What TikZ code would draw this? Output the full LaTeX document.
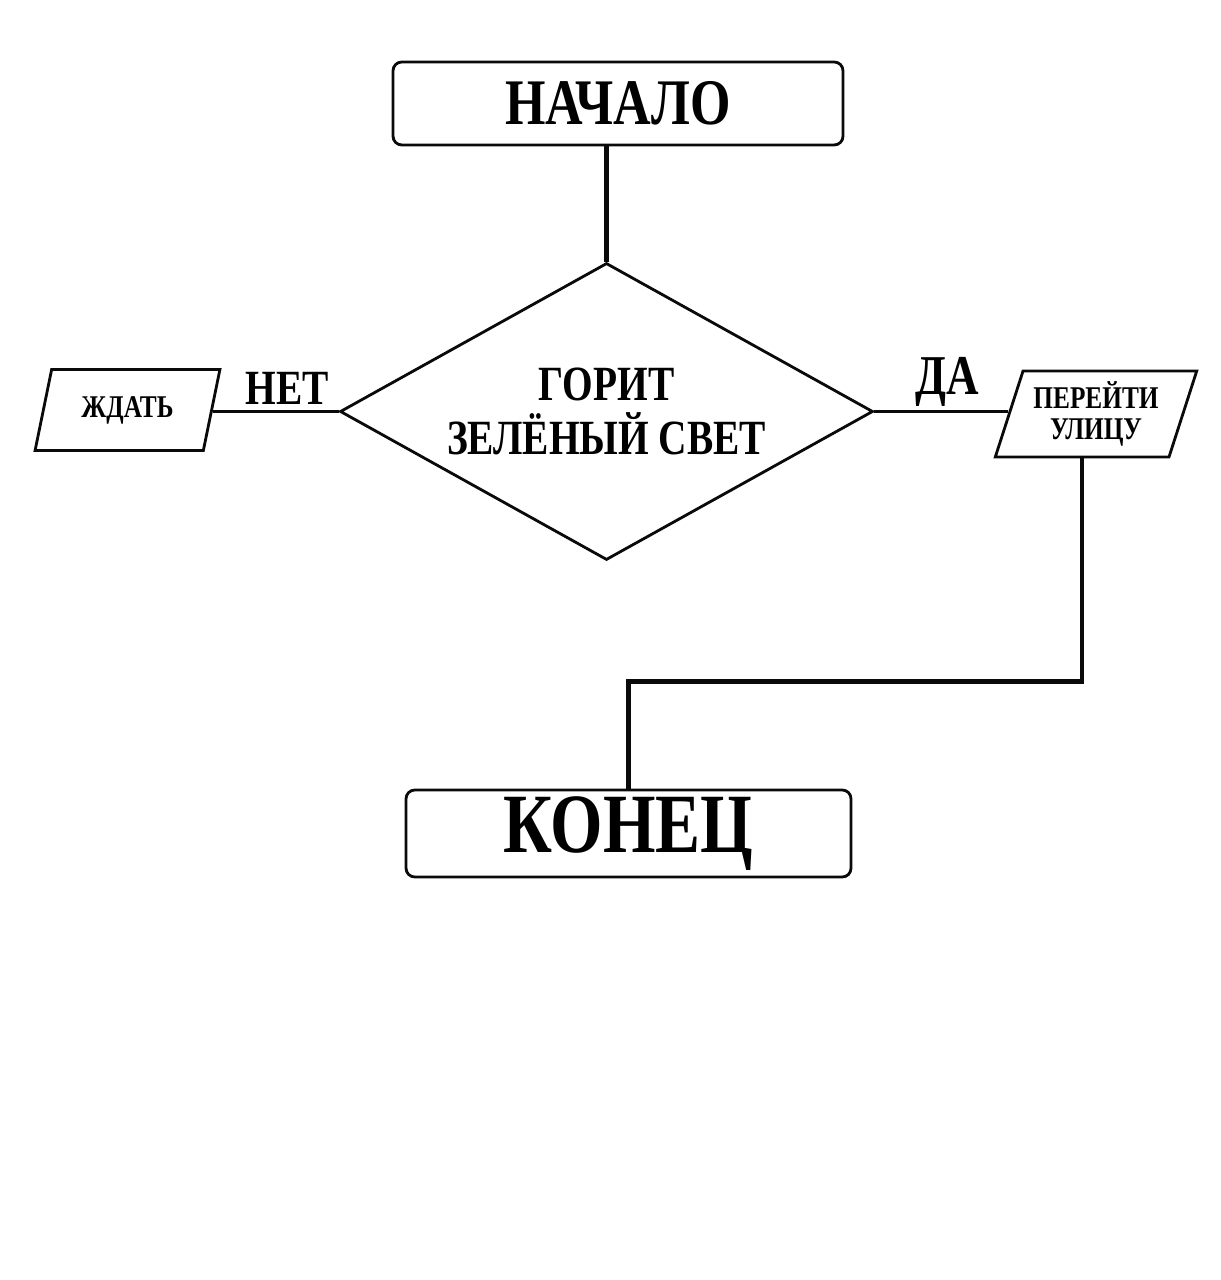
\documentclass[tikz,border=0pt]{standalone}
\usepackage{fontspec}
\usepackage{tikz}
\usetikzlibrary{shapes.geometric, arrows.meta, positioning, calc}
\newfontfamily\flowfont[FakeStretch=0.8]{Liberation Serif}
\definecolor{mydark}{RGB}{10,10,10}
\tikzset{
  termbox/.style={rectangle, draw=mydark, fill=white,
    minimum width=4.45cm, minimum height=0.85cm, inner sep=0pt,
    rounded corners=2.5pt, line width=0.8pt},
  decision/.style={diamond, draw=mydark, fill=white, aspect=1.8,
    minimum width=5.33cm, minimum height=2.97cm, inner sep=0pt,
    align=center, line width=0.8pt},
  iobox/.style={trapezium, trapezium left angle=70, trapezium right angle=110,
    trapezium stretches=true, draw=mydark, fill=white, align=center,
    inner sep=0pt, line width=0.8pt},
  lbl/.style={inner sep=0pt, font=\flowfont\bfseries\fontsize{14}{14}\selectfont},
  flow/.style={line width=1.4pt, color=mydark},
  line/.style={line width=1pt, color=mydark}
}
\begin{document}
\begin{tikzpicture}
  \useasboundingbox (0,0) rectangle (12.2,-12.8);
  \node[termbox, minimum width=4.5cm, minimum height=0.83cm,
    font=\flowfont\bfseries\fontsize{18.5}{18.5}\selectfont] (start) at (6.18,-1.035) {НАЧАЛО};
  \node[decision, font=\flowfont\bfseries\fontsize{14}{15.5}\selectfont] (cond) at (6.065,-4.115)
    {ГОРИТ\\ЗЕЛЁНЫЙ СВЕТ};
  \node[iobox, minimum width=1.85cm, minimum height=0.81cm,
    font=\flowfont\bfseries\fontsize{9}{9}\selectfont] (wait) at (1.275,-4.10) {ЖДАТЬ};
  \node[iobox, minimum width=2.02cm, minimum height=0.86cm,
    font=\flowfont\bfseries\fontsize{9}{9}\selectfont] (go) at (10.96,-4.14) {ПЕРЕЙТИ\\УЛИЦУ};
  \node[termbox, minimum height=0.87cm,
    font=\flowfont\bfseries\fontsize{24}{24}\selectfont] (end) at (6.285,-8.335) {КОНЕЦ};

  \node[lbl] (no) at (2.87,-3.88) {НЕТ};
  \node[lbl, font=\flowfont\bfseries\fontsize{16}{16}\selectfont] (yes) at (9.47,-3.82) {ДА};

  \draw[flow] (start.south -| cond.north) -- (cond.north);
  \draw[line] (cond.west) -- (cond.west -| wait.east);
  \draw[line] (cond.east) -- (cond.east -| go.west);
  \draw[flow] ([xshift=-1.4mm]go.south) |- ([yshift=1.07cm]end.north) -- (end.north);
\end{tikzpicture}
\end{document}
